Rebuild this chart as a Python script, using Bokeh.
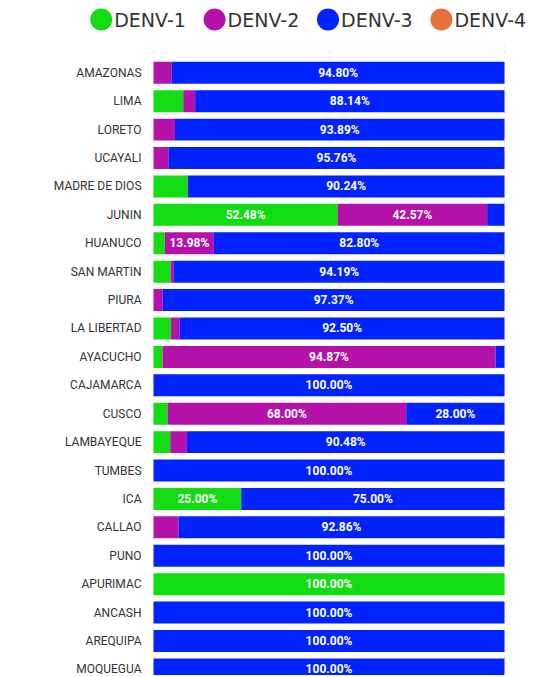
from bokeh.plotting import figure
from bokeh.models import ColumnDataSource, Range1d, FixedTicker
from bokeh.layouts import column
from bokeh.embed import file_html
from bokeh.resources import INLINE
from bokeh.core.properties import value

regions = ["AMAZONAS", "LIMA", "LORETO", "UCAYALI", "MADRE DE DIOS", "JUNIN",
           "HUANUCO", "SAN MARTIN", "PIURA", "LA LIBERTAD", "AYACUCHO",
           "CAJAMARCA", "CUSCO", "LAMBAYEQUE", "TUMBES", "ICA", "CALLAO",
           "PUNO", "APURIMAC", "ANCASH", "AREQUIPA", "MOQUEGUA"]
series = ["DENV-1", "DENV-2", "DENV-3", "DENV-4"]
denv1 = [0, 8.47, 0, 0, 9.76, 52.48, 3.22, 4.84, 0, 5.00, 2.56, 0, 4.00, 4.76,
         0, 25.00, 0, 0, 100.00, 0, 0, 0]
denv2 = [5.20, 3.39, 6.11, 4.24, 0, 42.57, 13.98, 0.97, 2.63, 2.50, 94.87, 0,
         68.00, 4.76, 0, 0, 7.14, 0, 0, 0, 0, 0]
denv3 = [94.80, 88.14, 93.89, 95.76, 90.24, 4.95, 82.80, 94.19, 97.37, 92.50,
         2.57, 100.00, 28.00, 90.48, 100.00, 75.00, 92.86, 100.00, 0, 100.00,
         100.00, 100.00]
denv4 = [0, 0, 0, 0, 0, 0, 0, 0, 0, 0, 0, 0, 0, 0, 0, 0, 0, 0, 0, 0, 0, 0]
colors = ["#12DC12", "#B412A8", "#0022FF", "#E8703A"]

FONT = "Roboto"
W = 533

# ---------------- legend figure ----------------
lg = figure(width=W, height=45, x_range=Range1d(-0.888, 3.812),
            y_range=Range1d(-26, 19), output_backend="svg",
            toolbar_location=None, min_border=0)
lg.axis.visible = False
lg.grid.visible = False
lg.outline_line_color = None
lsrc = ColumnDataSource(dict(x=list(range(len(series))), y=[0] * len(series),
                             name=series, color=colors))
lg.scatter(x="x", y="y", size=22, color="color", line_color=None, source=lsrc)
lg.text(x="x", y="y", text="name", source=lsrc, x_offset=13,
        text_align="left", text_baseline="middle", text_font_size="19px",
        text_color="#333333", text_font=value("DejaVu Sans"))

# ---------------- main figure ----------------
ys = list(range(len(regions)))
src = ColumnDataSource(dict(y=ys, **{series[0]: denv1, series[1]: denv2,
                                     series[2]: denv3, series[3]: denv4}))

# 0..100 % spans 351 px, starting 153 px from the figure's left edge
p = figure(width=W, height=630, x_range=Range1d(-43.59, 108.26),
           y_range=Range1d(21.215, -0.961), output_backend="svg",
           toolbar_location=None, min_border=0)
p.outline_line_color = None
p.hbar_stack(series, y="y", height=0.774, color=colors, line_color=None,
             source=src)

# category labels
p.text(x=[0] * len(regions), y=ys, text=regions, x_offset=-12,
       text_align="right", text_baseline="middle", text_font_size="12px",
       text_color="#333333", text_font=value(FONT))

# segment labels
lx, ly, lt = [], [], []
for i in ys:
    left = 0.0
    for vals in (denv1, denv2, denv3, denv4):
        v = vals[i]
        if v >= 10:
            lx.append(left + v / 2)
            ly.append(i)
            lt.append(f"{v:.2f}%")
        left += v
p.text(x=lx, y=ly, text=lt, text_color="white", text_font_style="bold",
       text_font_size="12px", text_align="center", text_baseline="middle",
       text_font=value(FONT))

p.axis.visible = False
p.ygrid.visible = False
p.xgrid.ticker = FixedTicker(ticks=[0, 50, 100])
p.xgrid.grid_line_color = "#c8c8c8"
p.xgrid.grid_line_dash = "1 5"
p.xgrid.level = "underlay"

layout = column(lg, p, spacing=0)
open("out.html", "w").write(file_html(layout, INLINE))
